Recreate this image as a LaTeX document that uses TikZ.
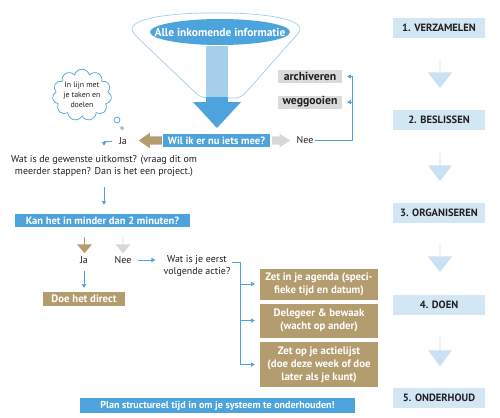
\documentclass[tikz,border=0pt]{standalone}
\usepackage{fontspec}
\setmainfont{PT Sans}
\usepackage{tikz}
\usetikzlibrary{arrows.meta, shapes.geometric, shapes.arrows, shapes.symbols, calc, positioning}

\newlength{\pxl}
\setlength{\pxl}{0.03cm}

\definecolor{infoblue}{RGB}{77,163,219}
\definecolor{shaftblue}{RGB}{166,207,236}
\definecolor{funnelline}{RGB}{160,205,235}
\definecolor{gdtan}{RGB}{179,157,110}
\definecolor{boxgray}{RGB}{218,218,218}
\definecolor{arrowgray}{RGB}{216,216,216}
\definecolor{stepblue}{RGB}{211,230,244}
\definecolor{stepshade}{RGB}{201,225,243}
\definecolor{ink}{RGB}{35,31,32}

\tikzset{
  plain/.style={font=\fontsize{8.5}{10.8}\selectfont, text=ink, align=center, inner sep=1pt},
  bluebox/.style={fill=infoblue, text=white, font=\bfseries\fontsize{9}{10}\selectfont, inner sep=0pt, minimum height=13\pxl},
  tanbox/.style={fill=gdtan, text=white, font=\bfseries\fontsize{9.2}{11}\selectfont, align=center, inner sep=0pt, minimum width=118\pxl},
  graybox/.style={fill=boxgray, text=ink, font=\bfseries\fontsize{10}{11}\selectfont, minimum width=64\pxl, minimum height=13\pxl, inner sep=0pt},
  stepbox/.style={fill=stepblue, text=ink, font=\bfseries\fontsize{9}{10}\selectfont, minimum width=92\pxl, minimum height=20\pxl, inner sep=0pt},
  blockarrow/.style={single arrow, inner xsep=0pt, anchor=tail},
  smalldown/.style={blockarrow, shape border rotate=270, inner ysep=4\pxl, minimum height=16\pxl, minimum width=15\pxl, single arrow head extend=3.5\pxl, single arrow tip angle=80},
  stepdown/.style={blockarrow, fill=stepshade, shape border rotate=270, inner ysep=6.5\pxl, minimum height=29\pxl, minimum width=24\pxl, single arrow head extend=5.5\pxl, single arrow tip angle=74},
  flow/.style={draw=infoblue, line width=0.6pt, -{Triangle[length=3.2pt,width=3.6pt]}}
}

\begin{document}
\begin{tikzpicture}[x=0.03cm, y=-0.03cm]
\useasboundingbox (0,0) rectangle (500,418);

% funnel with incoming information
\draw[funnelline, line width=0.6pt, rounded corners=6\pxl] (216,98) -- (201,98) -- (138,38) .. controls (122,20) and (165,13) .. (216,13) .. controls (267,13) and (310,20) .. (294,38) -- (241,98) -- cycle;
\fill[shaftblue] (206,46) rectangle (228,98);
\fill[infoblue] (206,97) rectangle (228,103);
\fill[infoblue] (193,102) -- (241,102) -- (217,128) -- cycle;
\node[ellipse, fill=infoblue, minimum width=140\pxl, minimum height=26\pxl, inner sep=0pt] (info) at (220,32) {};
\node[text=white, font=\bfseries\fontsize{9.8}{11}\selectfont, inner sep=0pt] (infotext) at (info) {Alle inkomende informatie};

% beslissen
\node[bluebox, minimum width=107\pxl] (wil) at (216.5,140.5) {Wil ik er nu iets mee?};
\node[plain] (ja) at (123,141) {Ja};
\node[blockarrow, fill=gdtan, shape border rotate=180, inner ysep=4\pxl, minimum height=23\pxl, minimum width=15\pxl, single arrow head extend=3.5\pxl, single arrow tip angle=70] (jaarrow) at (162,140.5) {};
\node[blockarrow, fill=arrowgray, inner ysep=4\pxl, minimum height=18\pxl, minimum width=13\pxl, single arrow head extend=2.5\pxl, single arrow tip angle=65] (neearrow) at (272,140.5) {};
\node[plain] (nee) at (305,140.5) {Nee};
\node[graybox] (archiveren) at (310,76.5) {archiveren};
\node[graybox] (weggooien) at (310,102) {weggooien};
\coordinate (neeturn) at ([xshift=38\pxl]nee.east);

\draw[flow, shorten >=5\pxl] (nee) -- (neeturn) |- (archiveren);
\draw[flow, shorten >=5\pxl] (neeturn |- weggooien) -- (weggooien);

% thought cloud
\node[cloud, cloud puffs=11, aspect=1.25, draw=infoblue, line width=0.6pt, fill=white, inner sep=0pt, minimum width=56\pxl, minimum height=44\pxl, font=\fontsize{6.7}{8.5}\selectfont, text=ink, align=center] (lijn) at (82,95) {In lijn met\\je taken en\\doelen};
\draw[infoblue, line width=0.6pt, fill=white] (117,120) circle (3);
\draw[infoblue, line width=0.6pt, fill=white] (122,128) circle (1.5);

% organiseren
\node[plain] (uitkomst) at (104,166) {Wat is de gewenste uitkomst? (vraag dit om\\meerder stappen? Dan is het een project.)};
\draw[flow, shorten >=8\pxl] ([xshift=-6\pxl]ja.west) -| (uitkomst.north);
\node[bluebox, minimum width=175\pxl] (kan) at (102.5,220.5) {Kan het in minder dan 2 minuten?};
\draw[flow, shorten <=9\pxl, shorten >=9\pxl] (uitkomst.south) -- (uitkomst.south |- kan.north);

\node[smalldown, fill=gdtan] (jadown) at (84.5,237) {};
\node[smalldown, fill=arrowgray] (needown) at (123,237) {};
\node[plain] (jaklein) at (84,260) {Ja};
\node[plain] (neeklein) at (123,260) {Nee};
\node[plain] (actie) at (197,266) {Wat is je eerst\\volgende actie?};
\draw[flow, shorten <=5\pxl, shorten >=7\pxl] (neeklein.east) -- (neeklein.east -| actie.west);

\node[tanbox, minimum width=82\pxl, minimum height=14\pxl] (doe) at (84,299) {Doe het direct};
\draw[flow, shorten <=6\pxl, shorten >=4\pxl] (jaklein) -- (doe);

% doen
\node[tanbox, minimum height=31\pxl] (agenda) at (319,284) {Zet in je agenda (speci-\\fieke tijd en datum)};
\node[tanbox, minimum height=34\pxl] (delegeer) at (319,320.5) {Delegeer \& bewaak\\(wacht op ander)};
\node[tanbox, minimum height=45\pxl] (actielijst) at (319,364.5) {Zet op je actielijst\\(doe deze week of doe\\later als je kunt)};
\coordinate (actieturn) at ([xshift=9\pxl,yshift=4\pxl]actie.east);
\draw[flow, shorten >=5\pxl] ([yshift=4\pxl]actie.east) -- (actieturn) |- (actielijst);
\draw[flow, shorten >=5\pxl] (actieturn |- agenda) -- (agenda);
\draw[flow, shorten >=5\pxl] (actieturn |- delegeer) -- (delegeer);

% onderhoud
\node[bluebox, font=\bfseries\fontsize{8.6}{10}\selectfont, minimum width=275\pxl, minimum height=15\pxl] (plan) at (217.5,405.5) {Plan structureel tijd in om je systeem te onderhouden!};

% steps on the right
\node[stepbox] (s1) at (439,27.5) {1. VERZAMELEN};
\node[stepbox] (s2) at (439,120) {2. BESLISSEN};
\node[stepbox] (s3) at (439,213) {3. ORGANISEREN};
\node[stepbox] (s4) at (439,305) {4. DOEN};
\node[stepbox] (s5) at (439,398) {5. ONDERHOUD};
\node[stepdown] (p1) at (440,59) {};
\node[stepdown] (p2) at (440,152) {};
\node[stepdown] (p3) at (440,243) {};
\node[stepdown] (p4) at (440,337) {};

\end{tikzpicture}
\end{document}
